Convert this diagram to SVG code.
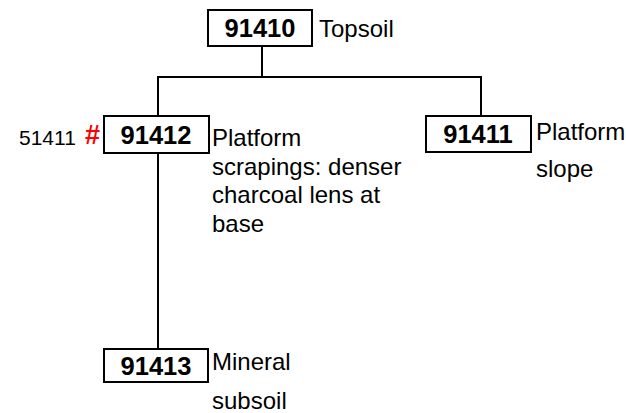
<svg xmlns="http://www.w3.org/2000/svg" width="626" height="413" viewBox="0 0 626 413">
<style>
.box{fill:#fff;stroke:#000;stroke-width:2}
.id{font-family:"Liberation Sans",Arial,sans-serif;font-weight:bold;font-size:25.5px;text-anchor:middle}
.lbl{font-family:"Liberation Sans",Arial,sans-serif;font-size:24px}
.ln{stroke:#000;stroke-width:2;fill:none}
</style>
<rect width="626" height="413" fill="#fff"/>
<g id="connectors">
<path class="ln" d="M262 46V77M157 77H482M158 77V116M481 77V116M158 153V349"/>
</g>
<g id="n91410">
<rect class="box" x="208" y="10" width="104" height="36"/>
<text class="id" x="260" y="37">91410</text>
<text class="lbl" x="319" y="37">Topsoil</text>
</g>
<g id="n91412">
<rect class="box" x="104" y="116" width="105" height="37"/>
<text class="id" x="156" y="144">91412</text>
<text x="19" y="145" style="font-family:'Liberation Sans',Arial,sans-serif;font-size:21px">51411</text>
<text x="85" y="144" style="font-family:'Liberation Sans',Arial,sans-serif;font-size:27px;font-weight:bold;fill:#f00">#</text>
<text class="lbl" x="212" y="146">Platform</text>
<text class="lbl" x="212" y="175">scrapings: denser</text>
<text class="lbl" x="212" y="203">charcoal lens at</text>
<text class="lbl" x="212" y="232">base</text>
</g>
<g id="n91411">
<rect class="box" x="426" y="116" width="105" height="36"/>
<text class="id" x="478" y="143">91411</text>
<text class="lbl" x="536" y="140">Platform</text>
<text class="lbl" x="536" y="177">slope</text>
</g>
<g id="n91413">
<rect class="box" x="104" y="349" width="104" height="33"/>
<text class="id" x="156" y="375">91413</text>
<text class="lbl" x="212" y="370">Mineral</text>
<text class="lbl" x="212" y="409">subsoil</text>
</g>
</svg>
